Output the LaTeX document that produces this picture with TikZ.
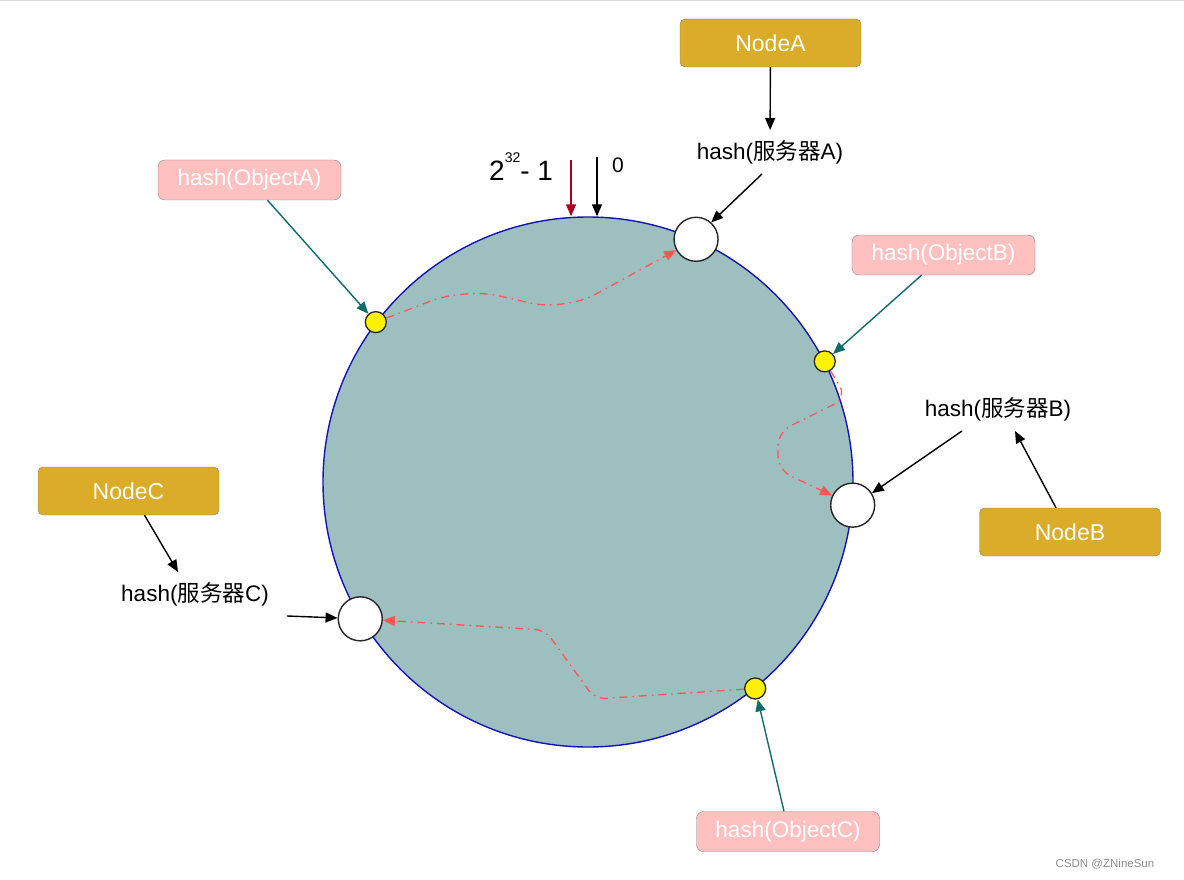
\documentclass[tikz,border=0pt]{standalone}
\usepackage{fontspec}
\setmainfont{Liberation Sans}
\newfontfamily\cjk{Noto Sans CJK SC}
\usetikzlibrary{arrows.meta,positioning}

\definecolor{ringfill}{RGB}{158,191,191}
\definecolor{ringline}{RGB}{20,20,180}
\definecolor{servergold}{RGB}{218,172,41}
\definecolor{objectpink}{RGB}{255,192,192}
\definecolor{keyteal}{RGB}{16,108,104}
\definecolor{routered}{RGB}{255,85,85}
\definecolor{maxred}{RGB}{170,0,30}

\begin{document}
\begin{tikzpicture}[
    x=1pt, y=-1pt,
    >={Triangle[length=12pt,width=10pt]},
    server/.style={draw=gray, fill=servergold, rounded corners=5pt, text=white, minimum width=181pt, minimum height=48pt, font=\fontsize{23}{26}\selectfont},
    object/.style={draw=gray, fill=objectpink, rounded corners=7pt, text=white, minimum width=183pt, minimum height=40pt, font=\fontsize{22.5}{26}\selectfont},
    hashlabel/.style={inner sep=10pt, font=\fontsize{22.5}{26}\selectfont},
    slot/.style={circle, draw=black!85, line width=1.4pt, fill=white, minimum size=44pt, inner sep=0pt},
    key/.style={circle, draw=black!85, line width=1.3pt, fill=yellow, minimum size=21pt, inner sep=0pt},
    pointer/.style={->, line width=1.4pt},
    keyarrow/.style={->, keyteal, line width=1.4pt},
    route/.style={->, routered, line width=1.3pt, dash pattern=on 8pt off 5pt on 1.5pt off 5pt}
  ]
    \useasboundingbox (0,0) rectangle (1184,880);
    \draw[black!15, line width=1.5pt] (0,0.75) -- (1184,0.75);

    % hash ring
    \node[circle, draw=ringline, line width=1.4pt, fill=ringfill, minimum size=530pt, inner sep=0pt] (ring) at (588,482) {};

    % servers and objects on the ring
    \node[slot] (slotA) at (ring.66.7) {};
    \node[slot] (slotB) at (ring.355.2) {};
    \node[slot] (slotC) at (ring.211.3) {};
    \node[key] (keyA) at (ring.143.3) {};
    \node[key] (keyB) at (ring.27.8) {};
    \node[key] (keyC) at (ring.309.1) {};

    \node[server] (nodeA) at (770.5,43) {NodeA};
    \node[server] (nodeB) at (1070,532) {NodeB};
    \node[server] (nodeC) at (128.5,491) {NodeC};

    \node[hashlabel] (hashA) at (770,152) {hash({\cjk 服务器}A)};
    \node[hashlabel] (hashB) at (998,409) {hash({\cjk 服务器}B)};
    \node[hashlabel] (hashC) at (195,594) {hash({\cjk 服务器}C)};

    \node[object] (objA) at (249.5,180) {hash(ObjectA)};
    \node[object] (objB) at (943.5,255) {hash(ObjectB)};
    \node[object] (objC) at (788,831.5) {hash(ObjectC)};

    % start of the ring
    \node[anchor=base west, inner sep=0pt, font=\fontsize{28}{30}\selectfont] (maxlabel) at (489,181) {2\raisebox{18pt}{\fontsize{14}{16}\selectfont 32}- 1};
    \node[font=\fontsize{21}{24}\selectfont] (zerolabel) at (618,165) {0};
    \coordinate (maxtop) at (571,160);
    \coordinate (zerotop) at (597,157);
    \draw[pointer, maxred] (maxtop) -- (maxtop |- ring.north);
    \draw[pointer] (zerotop) -- (zerotop |- ring.north);

    \draw[pointer] (nodeA) -- (hashA);
    \draw[pointer] ([xshift=-8pt]hashA.south) -- (slotA.48);
    \draw[pointer] ([xshift=-14pt]nodeB.north) -- ([xshift=17pt]hashB.south);
    \draw[pointer] ([xshift=-36pt]hashB.south) -- (slotB.32);
    \draw[pointer] ([xshift=16pt]nodeC.south) -- ([xshift=-17pt]hashC.north);
    \draw[pointer] ([xshift=8pt]hashC.south east) -- (slotC);

    \draw[keyarrow] ([xshift=18pt]objA.south) -- (keyA);
    \draw[keyarrow] ([xshift=-22pt]objB.south) -- (keyB);
    \draw[keyarrow] ([xshift=-4pt]objC.north) -- (keyC);

    % objects walk clockwise to the next server
    \draw[route, rounded corners=35pt] (keyA) -- (465,288) -- (565,311) -- (slotA);
    \draw[route, rounded corners=14pt] (keyB) -- (847,398) -- (778,432) -- (778,470) -- (slotB);
    \draw[route, rounded corners=10pt] (keyC) -- (595,699) -- (545,630) -- (slotC);

    \node[text=black!45, font=\fontsize{11.5}{13}\selectfont] (mark) at (1105,864) {CSDN @ZNineSun};
\end{tikzpicture}
\end{document}
